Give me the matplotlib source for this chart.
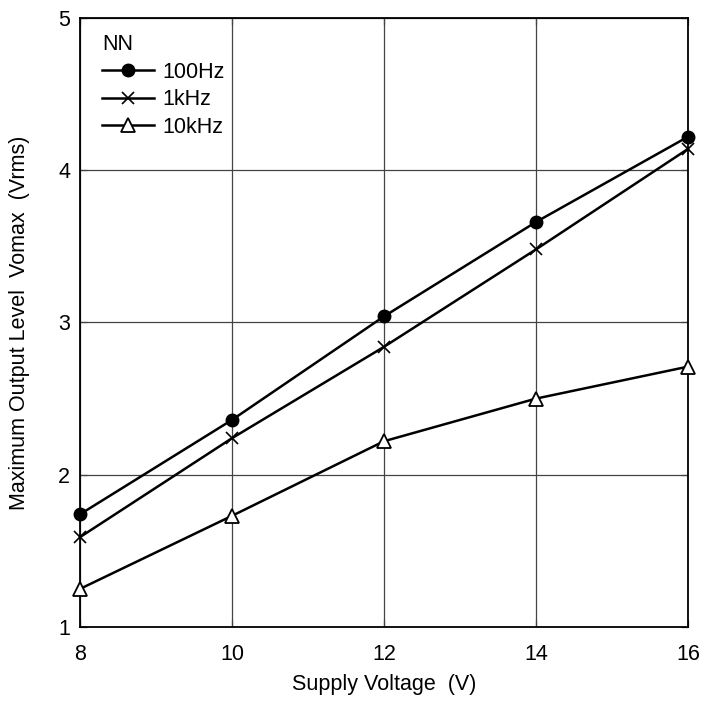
import matplotlib
matplotlib.use("Agg")
import matplotlib.pyplot as plt

plt.rcParams['font.family'] = ['Liberation Sans', 'DejaVu Sans']

supply_v = [8, 10, 12, 14, 16]
vo_100hz = [1.74, 2.36, 3.04, 3.66, 4.22]
vo_1khz = [1.59, 2.24, 2.84, 3.48, 4.14]
vo_10khz = [1.25, 1.73, 2.22, 2.50, 2.71]
x_ticks = [8, 10, 12, 14, 16]
y_ticks = [1, 2, 3, 4, 5]

FS = 15.5

fig = plt.figure(figsize=(7.04, 7.01), dpi=100)
ax = fig.add_axes([0.1136, 0.1056, 0.8636, 0.8687])

ax.plot(supply_v, vo_100hz, color='black', lw=1.8, marker='o', ms=9,
        mfc='black', mec='black', label='100Hz', zorder=4, clip_on=False)
ax.plot(supply_v, vo_1khz, color='black', lw=1.8, marker='x', ms=9,
        mew=1.2, label='1kHz', zorder=4, clip_on=False)
ax.plot(supply_v, vo_10khz, color='black', lw=1.8, marker='^', ms=10,
        mfc='white', mec='black', mew=1.3, label='10kHz', zorder=4, clip_on=False)

ax.set_xlim(8, 16)
ax.set_ylim(1, 5)
ax.set_xticks(x_ticks)
ax.set_yticks(y_ticks)
ax.grid(True, color='#444444', lw=0.9, zorder=1)
ax.set_axisbelow(True)
for s in ax.spines.values():
    s.set_linewidth(1.3)
    s.set_color('black')
ax.tick_params(direction='in', length=5, width=0.9, labelsize=FS,
               top=True, right=True, color='#444444')
ax.tick_params(axis='x', pad=12)
ax.tick_params(axis='y', pad=7)

ax.set_xlabel('Supply Voltage  (V)', fontsize=FS, labelpad=7)
ax.set_ylabel('Maximum Output Level  Vomax  (Vrms)', fontsize=FS, labelpad=20)

leg = ax.legend(title='NN', loc='upper left', bbox_to_anchor=(0.01, 1.0),
                fontsize=FS, title_fontsize=FS, frameon=True,
                fancybox=False, handlelength=2.4, handletextpad=0.4,
                borderpad=0.3, labelspacing=0.3, borderaxespad=0.45,
                alignment='left')
leg.get_frame().set_facecolor('white')
leg.get_frame().set_edgecolor('none')
leg.get_frame().set_alpha(1.0)

fig.savefig('out.png', dpi=100, facecolor='white')
